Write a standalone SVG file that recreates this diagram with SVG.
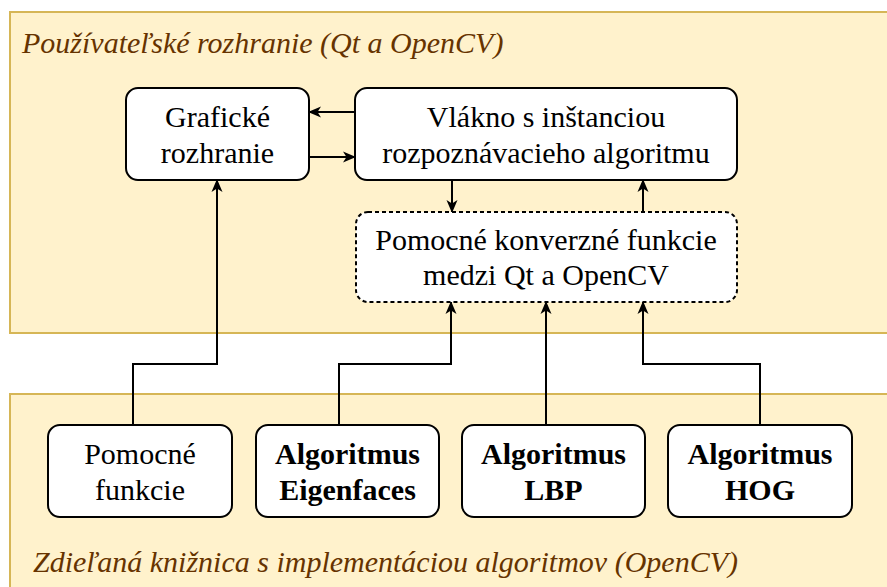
<svg xmlns="http://www.w3.org/2000/svg" width="887" height="587" viewBox="0 0 887 587">
<style>
.cont{fill:#fff2cc;stroke:#d6b656;stroke-width:2}
.node{fill:#ffffff;stroke:#000000;stroke-width:2}
.dash{stroke-dasharray:4 3}
</style>
<defs>
<marker id="arr" markerUnits="userSpaceOnUse" markerWidth="14" markerHeight="12" refX="12" refY="6" orient="auto" viewBox="0 0 14 12">
<path d="M0,0.5 L13,6 L0,11.5 L3.5,6 Z" fill="#000000"/>
</marker>
</defs>
<rect width="887" height="587" fill="#ffffff"/>
<g id="container-ui">
<rect class="cont" x="10" y="12" width="900" height="321"/>
<text x="22" y="53" font-family="Times New Roman, Liberation Serif, serif" font-style="italic" font-size="30" fill="#663300">Používateľské rozhranie (Qt a OpenCV)</text>
</g>
<g id="container-lib">
<rect class="cont" x="10" y="394" width="900" height="220"/>
<text x="33" y="572" font-family="Times New Roman, Liberation Serif, serif" font-style="italic" font-size="30" fill="#663300">Zdieľaná knižnica s implementáciou algoritmov (OpenCV)</text>
</g>
<g id="connectors" fill="none" stroke="#000000" stroke-width="2" marker-end="url(#arr)">
<path d="M355,112 H309"/>
<path d="M309,157 H355"/>
<path d="M452,180 V212"/>
<path d="M643,212 V180"/>
<path d="M133,425 V364 H217 V180"/>
<path d="M339,425 V364 H451 V302"/>
<path d="M546,425 V302"/>
<path d="M760,425 V364 H643 V302"/>
</g>
<g font-family="Times New Roman, Liberation Serif, serif" font-size="30" text-anchor="middle" fill="#000000">
<g id="node-graficke">
<rect class="node" x="126" y="88" width="183" height="92" rx="12"/>
<text x="217.5" y="127">Grafické</text>
<text x="217.5" y="163">rozhranie</text>
</g>
<g id="node-vlakno">
<rect class="node" x="355" y="88" width="382" height="92" rx="12"/>
<text x="546" y="127">Vlákno s inštanciou</text>
<text x="546" y="163">rozpoznávacieho algoritmu</text>
</g>
<g id="node-konverzne">
<rect class="node dash" x="356" y="212" width="381" height="90" rx="12"/>
<text x="546" y="250">Pomocné konverzné funkcie</text>
<text x="546" y="285">medzi Qt a OpenCV</text>
</g>
<g id="node-pomocne">
<rect class="node" x="48" y="425" width="184" height="92" rx="12"/>
<text x="140" y="464">Pomocné</text>
<text x="140" y="500">funkcie</text>
</g>
<g font-weight="bold">
<g id="node-eigenfaces">
<rect class="node" x="256" y="425" width="183" height="92" rx="12"/>
<text x="347.5" y="464">Algoritmus</text>
<text x="347.5" y="500">Eigenfaces</text>
</g>
<g id="node-lbp">
<rect class="node" x="462" y="425" width="183" height="92" rx="12"/>
<text x="553.5" y="464">Algoritmus</text>
<text x="553.5" y="500">LBP</text>
</g>
<g id="node-hog">
<rect class="node" x="668" y="425" width="184" height="92" rx="12"/>
<text x="760" y="464">Algoritmus</text>
<text x="760" y="500">HOG</text>
</g>
</g>
</g>
</svg>
